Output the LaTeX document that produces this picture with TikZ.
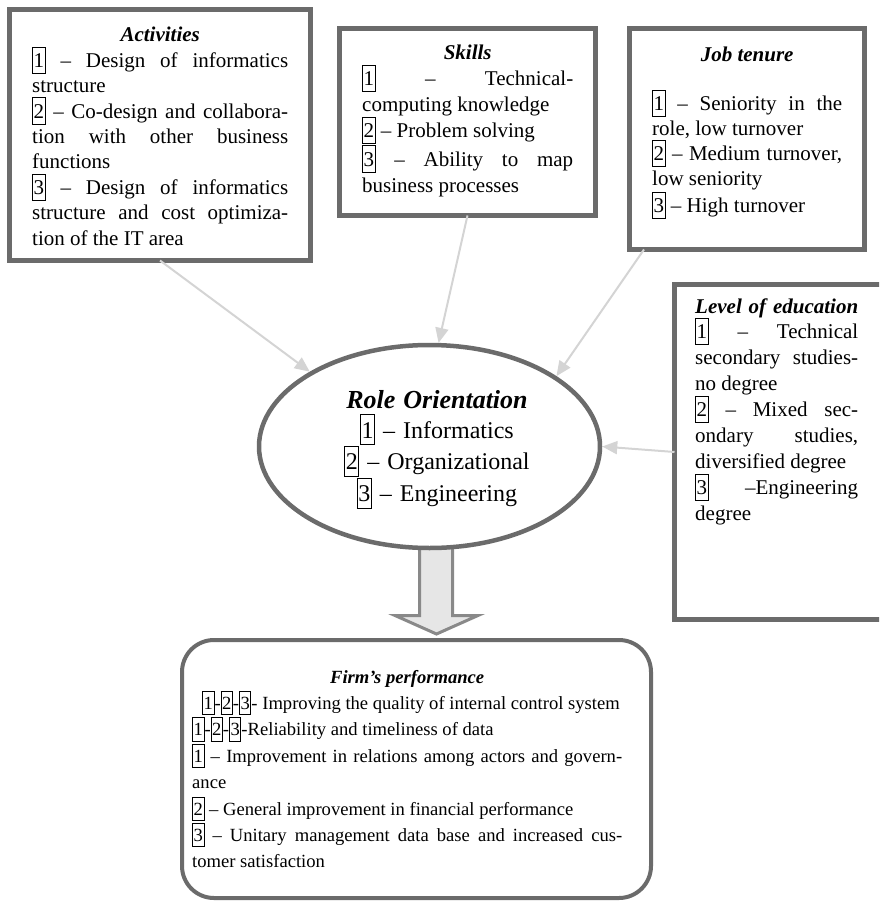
\documentclass[tikz,border=0pt]{standalone}
\usepackage{fontspec}
\setmainfont{Liberation Serif}
\usetikzlibrary{shapes.geometric,arrows.meta,calc,backgrounds}

\definecolor{boxgrey}{HTML}{6B6B6B}
\definecolor{feedgrey}{HTML}{D4D4D4}
\definecolor{flowfill}{HTML}{E6E6E6}
\definecolor{flowline}{HTML}{898989}

% boxed item number, as used in the lists
\newcommand\nb[1]{{\setlength\fboxsep{0pt}\setlength\fboxrule{1pt}%
  \fbox{\rule[-0.26em]{0pt}{1.2em}\hspace{0.5pt}#1\hspace{0.5pt}}}}
% a justified (full-width) line and a centred line
\newcommand\J[1]{{\spaceskip=0pt\xspaceskip=0pt\makebox[\linewidth][s]{#1}}}
\newcommand\C[1]{\makebox[\linewidth]{#1}}
\newcommand\hd[1]{\textbf{\textit{#1}}}
% text font with a fixed line pitch
\DeclareRobustCommand\listfont[2]{\fontsize{#1pt}{#2pt}\selectfont}

\tikzset{
  panel/.style={rectangle, draw=boxgrey, line width=5pt, fill=white,
    inner sep=0pt, outer sep=0pt},
  body/.style 2 args={anchor=base west, inner sep=0pt, text width=#1,
    align=justify, font={\listfont{21}{#2}}},
  feed/.style={draw=feedgrey, line width=2pt,
    -{Triangle[length=15pt,width=13pt]}},
}

\begin{document}
\lineskiplimit=-100pt
\begin{tikzpicture}[x=1pt,y=-1pt]
\useasboundingbox (0,0) rectangle (879,901);
\clip (0,0) rectangle (879,901);

% frames
\node[panel, minimum width=301pt, minimum height=251pt] (act) at (160,135) {};
\node[panel, minimum width=256pt, minimum height=187pt] (skills) at (467.5,122) {};
\node[panel, minimum width=235pt, minimum height=221pt] (job) at (747,139) {};
\node[panel, minimum width=208pt, minimum height=335pt] (level) at (778.5,452) {};
\node[ellipse, draw=boxgrey, line width=4.5pt, fill=white, inner sep=0pt,
  minimum width=341pt, minimum height=203pt] (role) at (429.5,446.5) {};
\node[rectangle, draw=boxgrey, line width=4pt, fill=white, rounded corners=32pt,
  minimum width=469pt, minimum height=258pt] (firm) at (416.5,769) {};

% texts
\node[body={256pt}{25.4}] (acttext) at (32,42) {%
  \C{\hd{Activities}}\\
  \J{\nb1 -- Design of informatics}\\
  structure\\
  \J{\nb2 -- Co-design and collabora-}\\
  \J{tion with other business}\\
  functions\\
  \J{\nb3 -- Design of informatics}\\
  \J{structure and cost optimiza-}\\
  tion of the IT area};

\node[body={211pt}{26}] (skillstext) at (362,60) {%
  \C{\hd{Skills}}\\
  \J{\nb1 -- Technical-}\\
  computing knowledge\\
  \nb2 -- Problem solving\\
  \J{\nb3 -- Ability to map}\\
  business processes};

\node[body={190pt}{25.2}] (jobtext) at (652,62) {%
  \C{\hd{Job tenure}}\\
  \mbox{}\\[-2pt]
  \J{\nb1 -- Seniority in the}\\
  role, low turnover\\
  \J{\nb2 -- Medium turnover,}\\
  low seniority\\
  \nb3 -- High turnover};

\node[body={163pt}{25.9}] (leveltext) at (695,313) {%
  \J{\hd{Level of education}}\\
  \J{\nb1 -- Technical}\\
  \J{secondary studies-}\\
  no degree\\
  \J{\nb2 -- Mixed sec-}\\
  \J{ondary studies,}\\
  diversified degree\\
  \J{\nb3 --Engineering}\\
  degree};

\node[anchor=base, inner sep=0pt, text width=300pt, align=center,
  font={\listfont{24}{30}}] (roletext) at (437,408) {%
  {\listfont{26}{30}\hd{Role Orientation}}\\
  \nb1 -- Informatics\\
  \nb2 -- Organizational\\
  \nb3 -- Engineering};

\node[body={430pt}{26.4}, font={\listfont{18.6}{26.4}}] (firmtext) at (192,683) {%
  \C{\hd{Firm’s performance}}\\
  \hspace*{10pt}\nb1-\nb2-\nb3- Improving the quality of internal control system\\
  \nb1-\nb2-\nb3-Reliability and timeliness of data\\
  \J{\nb1 -- Improvement in relations among actors and govern-}\\
  ance\\
  \nb2 -- General improvement in financial performance\\
  \J{\nb3 -- Unitary management data base and increased cus-}\\
  tomer satisfaction};

% influences on the role orientation
\draw[feed] (act.south) -- (role.148);
\draw[feed] (skills.south) -- (role.85);
\draw[feed] ($(job.south west)+(14.5,0)$) -- (role.29);
\draw[feed] (level.west) -- (role.east);

% block arrow from the role orientation down to the performance box
\coordinate (ax) at (436.5,0);
\begin{scope}[on background layer]
  \coordinate (top) at ($(ax |- role.south)+(0,-20)$);
  \coordinate (tip) at ($(ax |- firm.north)+(0,-4)$);
  \draw[draw=flowline, fill=flowfill, line width=3pt, line join=miter]
    ($(top)+(-17,0)$) -- ($(tip)+(-17,-18.5)$) -- ($(tip)+(-41.5,-18.5)$)
    -- (tip) -- ($(tip)+(41.5,-18.5)$) -- ($(tip)+(16,-18.5)$)
    -- ($(top)+(16,0)$) -- cycle;
\end{scope}
\end{tikzpicture}
\end{document}
